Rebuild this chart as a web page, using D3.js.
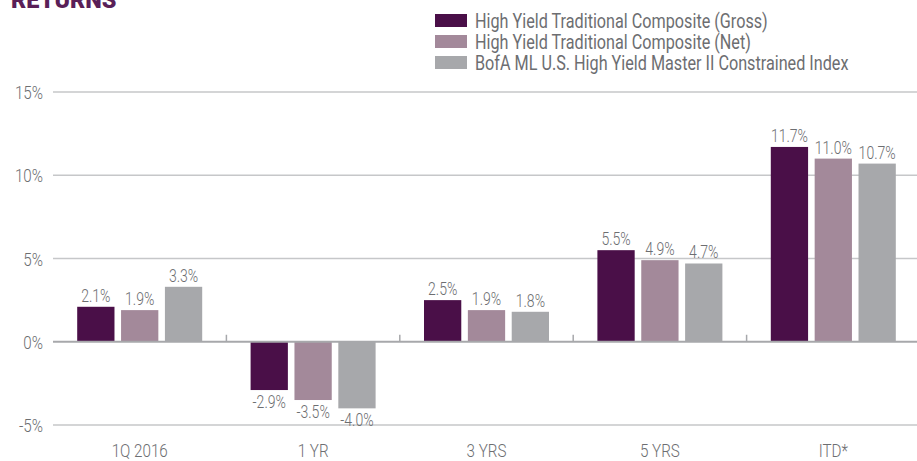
<!DOCTYPE html>
<html>
<head>
<meta charset="utf-8">
<script src="https://cdn.jsdelivr.net/npm/d3@7"></script>
<style>
  html, body { margin: 0; padding: 0; background: #fff; }
  svg { display: block; font-family: Roboto, "DejaVu Sans", sans-serif; font-weight: 300; }
</style>
</head>
<body>
<div id="chart"></div>
<script>
// chart data
const categories = ["1Q 2016", "1 YR", "3 YRS", "5 YRS", "ITD*"];
const seriesNames = [
  "High Yield Traditional Composite (Gross)",
  "High Yield Traditional Composite (Net)",
  "BofA ML U.S. High Yield Master II Constrained Index"
];
const grossValues = [2.1, -2.9, 2.5, 5.5, 11.7];
const netValues = [1.9, -3.5, 1.9, 4.9, 11.0];
const indexValues = [3.3, -4.0, 1.8, 4.7, 10.7];
const yTicks = [-5, 0, 5, 10, 15];

const colors = ["#4a0f48", "#a3899a", "#a7a8ab"];
const seriesValues = [grossValues, netValues, indexValues];

const width = 917;
const height = 461;
const margin = { top: 92, right: -3, bottom: 36, left: 53 };
const squeeze = 0.8; // narrow the font horizontally (condensed look)

const svg = d3.select("#chart")
  .append("svg")
  .attr("width", width)
  .attr("height", height);

// Title (partly cut off at the top, like the source)
svg.append("text")
  .attr("transform", `translate(11,8) scale(1.02,1)`)
  .attr("font-weight", 900)
  .attr("font-size", 23)
  .attr("fill", "#5a1f58")
  .text("RETURNS")
  .append("tspan")
  .attr("font-size", 12)
  .attr("dy", -9)
  .text("1");

const x0 = d3.scaleBand()
  .domain(categories)
  .range([margin.left, width - margin.right]);

const groupW = 125;
const x1 = d3.scaleBand()
  .domain(d3.range(seriesNames.length))
  .range([x0.bandwidth() / 2 - groupW / 2, x0.bandwidth() / 2 + groupW / 2])
  .paddingInner(0.15);

const y = d3.scaleLinear()
  .domain([-5, 15])
  .range([height - margin.bottom, margin.top]);

// Gridlines
svg.append("g")
  .selectAll("line")
  .data(yTicks.filter((d) => d !== 0))
  .join("line")
  .attr("x1", margin.left)
  .attr("x2", width)
  .attr("y1", (d) => y(d))
  .attr("y2", (d) => y(d))
  .attr("stroke", "#c6c7c9")
  .attr("stroke-width", 1.3);

// Y labels
svg.append("g")
  .selectAll("text")
  .data(yTicks)
  .join("text")
  .attr("transform", (d) => `translate(43,${y(d) + 7}) scale(${squeeze},1)`)
  .attr("text-anchor", "end")
  .attr("font-size", 19)
  .attr("fill", "#6d6e71")
  .text((d) => d + "%");

// Bars
const data = categories.map((c, i) => ({
  category: c,
  values: seriesValues.map((vals, s) => ({ s, v: vals[i] }))
}));

const groups = svg.append("g")
  .selectAll("g")
  .data(data)
  .join("g")
  .attr("transform", (d) => `translate(${x0(d.category)},0)`);

groups.selectAll("rect")
  .data((d) => d.values)
  .join("rect")
  .attr("x", (d) => x1(d.s))
  .attr("width", x1.bandwidth())
  .attr("y", (d) => y(Math.max(0, d.v)))
  .attr("height", (d) => Math.abs(y(d.v) - y(0)))
  .attr("fill", (d) => colors[d.s]);

groups.selectAll("text")
  .data((d) => d.values)
  .join("text")
  .attr("transform", (d) => {
    const tx = x1(d.s) + x1.bandwidth() / 2;
    const ty = d.v >= 0 ? y(d.v) - 5 : y(d.v) + 18;
    return `translate(${tx},${ty}) scale(0.78,1)`;
  })
  .attr("text-anchor", "middle")
  .attr("font-size", 18)
  .attr("fill", "#6d6e71")
  .text((d) => d.v.toFixed(1) + "%");

// Zero line + category separators
svg.append("line")
  .attr("x1", margin.left)
  .attr("x2", width)
  .attr("y1", y(0))
  .attr("y2", y(0))
  .attr("stroke", "#a7a8ab")
  .attr("stroke-width", 2);

svg.append("g")
  .selectAll("line")
  .data(categories.slice(1))
  .join("line")
  .attr("x1", (d) => x0(d))
  .attr("x2", (d) => x0(d))
  .attr("y1", y(0))
  .attr("y2", y(0) - 7)
  .attr("stroke", "#a7a8ab")
  .attr("stroke-width", 1.5);

// Category labels
svg.append("g")
  .selectAll("text")
  .data(categories)
  .join("text")
  .attr("transform", (d) => `translate(${x0(d) + x0.bandwidth() / 2},457) scale(${squeeze},1)`)
  .attr("text-anchor", "middle")
  .attr("font-size", 19)
  .attr("fill", "#6d6e71")
  .text((d) => d);

// Legend
const legend = svg.append("g")
  .selectAll("g")
  .data(seriesNames)
  .join("g")
  .attr("transform", (d, i) => `translate(435,${20.5 + i * 21})`);

legend.append("rect")
  .attr("x", 0)
  .attr("y", -6.5)
  .attr("width", 32)
  .attr("height", 13)
  .attr("fill", (d, i) => colors[i]);

legend.append("text")
  .attr("transform", `translate(40,7) scale(0.81,1)`)
  .attr("font-size", 20)
  .attr("font-weight", 400)
  .attr("fill", "#6d6e71")
  .text((d) => d);
</script>
</body>
</html>
